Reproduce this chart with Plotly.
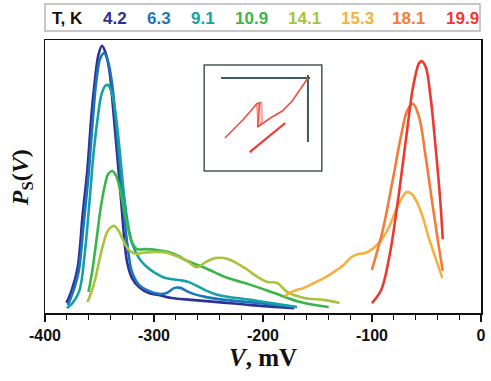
import plotly.graph_objects as go

# ---------------- data (V in mV, P_S in arbitrary units) ----------------
temps = ["4.2", "6.3", "9.1", "10.9", "14.1", "15.3", "18.1", "19.9"]
colors = ["#2e3192", "#1c75bc", "#15a2a6", "#39b54a", "#a8c43c", "#f6b040", "#f47b3a", "#ec3a32"]

V_42 = [-380.3, -375.5, -370.1, -365.5, -361.0, -357.4, -354.7, -351.0, -347.7, -344.7, -341.0, -337.4,
        -333.8, -330.2, -327.6, -324.7, -320.2, -313.8, -304.8, -295.7, -283.9, -265.8, -241.3, -211.3, -171.4]
P_42 = [3.7, 8.4, 16.5, 35.9, 53.1, 72.5, 83.5, 94.5, 97.9, 95.6, 89.0, 74.4,
        57.9, 41.4, 28.6, 18.7, 12.8, 9.5, 7.3, 6.6, 5.5, 4.8, 4.0, 2.9, 1.8]

V_63 = [-379.1, -374.6, -369.2, -364.6, -360.1, -356.5, -352.8, -349.2, -345.6, -342.0, -338.3, -334.7,
        -331.1, -327.5, -323.8, -320.2, -313.8, -304.8, -295.7, -288.4, -281.2, -275.7, -270.3, -263.9,
        -253.1, -234.9, -205.0, -170.5]
P_63 = [2.9, 7.3, 15.0, 32.2, 50.5, 68.9, 85.3, 93.4, 95.2, 91.9, 83.5, 68.9,
        52.4, 35.9, 23.1, 15.0, 10.3, 8.1, 7.0, 7.3, 9.2, 9.2, 8.1, 7.0,
        5.9, 4.8, 3.7, 2.2]

V_91 = [-380.0, -374.6, -368.3, -363.7, -359.2, -355.6, -351.9, -348.3, -344.7, -342.0, -338.3, -334.7,
        -331.1, -327.5, -323.8, -320.2, -313.8, -307.5, -300.2, -289.3, -277.6, -268.5, -253.1, -241.3,
        -211.3, -180.5, -168.7]
P_91 = [1.8, 3.7, 8.4, 21.2, 40.7, 57.9, 70.7, 79.9, 83.2, 83.5, 79.9, 71.4,
        57.9, 43.2, 32.2, 25.6, 20.1, 17.2, 15.0, 12.8, 12.1, 11.4, 8.4, 6.6,
        4.8, 2.9, 2.2]

V_109 = [-360.1, -356.5, -352.8, -349.2, -345.6, -342.0, -338.3, -334.7, -331.1, -327.5, -323.8, -320.2,
         -315.7, -307.5, -297.5, -286.6, -277.6, -271.2, -253.1, -232.2, -211.3, -189.6, -166.0, -139.7]
P_109 = [7.7, 15.8, 26.7, 37.7, 45.8, 50.9, 52.0, 50.2, 45.1, 37.7, 31.1, 26.0,
         23.4, 23.4, 23.1, 22.3, 20.9, 19.4, 16.5, 12.8, 10.3, 7.3, 4.0, 2.2]

V_141 = [-361.0, -357.4, -353.7, -350.1, -346.5, -342.9, -339.2, -336.5, -332.9, -329.3, -325.6, -322.0,
         -316.6, -311.1, -302.0, -291.2, -279.4, -268.5, -261.2, -252.2, -244.0, -232.2, -216.8, -205.0,
         -196.0, -186.9, -177.8, -162.4, -144.2, -129.7]
P_141 = [4.0, 7.7, 12.8, 19.4, 25.3, 29.7, 31.5, 31.9, 30.4, 27.5, 24.5, 22.7,
         21.6, 22.0, 22.3, 22.3, 20.9, 18.7, 16.8, 18.7, 20.1, 19.8, 16.5, 13.2,
         11.4, 11.0, 7.7, 5.5, 4.8, 3.7]

V_153 = [-180.5, -171.4, -162.4, -153.3, -144.2, -135.2, -126.1, -118.8, -112.5, -106.1, -99.8, -91.6,
         -84.4, -78.0, -72.6, -68.0, -63.5, -58.9, -53.5, -48.1, -41.7, -35.4]
P_153 = [6.2, 8.1, 9.2, 11.0, 12.8, 15.0, 17.6, 20.5, 21.6, 22.0, 23.4, 26.7,
         31.5, 37.7, 42.1, 44.3, 43.6, 40.7, 35.2, 27.8, 20.1, 12.8]

V_181 = [-100.1, -90.1, -81.0, -73.5, -67.4, -62.3, -56.9, -50.8, -44.7, -38.7, -35.1]
P_181 = [15.8, 30.4, 48.7, 64.6, 74.4, 76.6, 71.9, 57.3, 40.3, 24.3, 15.5]

V_199 = [-100.1, -91.6, -84.1, -76.5, -68.9, -62.3, -56.9, -54.7, -50.8, -46.3, -41.7, -37.2, -35.1]
P_199 = [3.6, 8.4, 20.6, 40.3, 63.4, 82.9, 91.5, 92.3, 90.2, 79.2, 60.9, 40.3, 27.0]

series_V = [V_42, V_63, V_91, V_109, V_141, V_153, V_181, V_199]
series_P = [P_42, P_63, P_91, P_109, P_141, P_153, P_181, P_199]

x_ticks = [-400, -300, -200, -100, 0]
x_ticklabels = ["<b>-400</b>", "<b>-300</b>", "<b>-200</b>", "<b>-100</b>", "<b>0</b>"]

# inset sketch (relative coordinates 0..1 inside the inset box)
inset_axis_u = [0.143, 0.90, None, 0.882, 0.882]
inset_axis_v = [0.877, 0.877, None, 0.905, 0.274]
inset_curve_u = [0.176, 0.244, 0.328, 0.395, 0.445, 0.471, 0.454, 0.563, 0.664, 0.748, 0.815, 0.882]
inset_curve_v = [0.311, 0.387, 0.481, 0.566, 0.632, 0.642, 0.415, 0.500, 0.566, 0.660, 0.774, 0.877]
inset_band_u = [0.445, 0.490, 0.495, 0.458, 0.445]
inset_band_v = [0.635, 0.650, 0.470, 0.415, 0.635]
inset_low_u = [0.387, 0.689]
inset_low_v = [0.179, 0.453]

# ---------------- figure ----------------
fig = go.Figure()

for t, c, vx, py in zip(temps, colors, series_V, series_P):
    fig.add_trace(go.Scatter(x=vx, y=py, mode="lines", name=t,
                             line=dict(color=c, width=2.6, shape="spline", smoothing=1.0),
                             showlegend=False, hoverinfo="skip"))

# inset traces
fig.add_trace(go.Scatter(x=inset_band_u, y=inset_band_v, mode="lines", fill="toself",
                         fillcolor="rgba(240,120,120,0.4)", line=dict(color="rgba(236,70,60,0.6)", width=1),
                         xaxis="x2", yaxis="y2", showlegend=False, hoverinfo="skip"))
fig.add_trace(go.Scatter(x=inset_axis_u, y=inset_axis_v, mode="lines",
                         line=dict(color="#3d5a5e", width=2), xaxis="x2", yaxis="y2",
                         showlegend=False, hoverinfo="skip"))
fig.add_trace(go.Scatter(x=inset_curve_u, y=inset_curve_v, mode="lines",
                         line=dict(color="#ec5040", width=1.6), xaxis="x2", yaxis="y2",
                         showlegend=False, hoverinfo="skip"))
fig.add_trace(go.Scatter(x=inset_low_u, y=inset_low_v, mode="lines",
                         line=dict(color="#ec3a32", width=2.2), xaxis="x2", yaxis="y2",
                         showlegend=False, hoverinfo="skip"))

L, R, T, B = 45, 5, 40, 68
W, H = 491, 381
pw, ph = W - L - R, H - T - B

def px_x(px):
    return (px - L) / pw

def px_y(py):
    return (H - B - py) / ph

ix0, ix1, iy0, iy1 = px_x(206), px_x(325), px_y(171), px_y(65)

shapes = [
    dict(type="rect", xref="paper", yref="paper", x0=ix0, x1=ix1, y0=iy0, y1=iy1,
         line=dict(color="#4a5558", width=1.5)),
    dict(type="rect", xref="paper", yref="paper", x0=px_x(45), x1=px_x(485), y0=px_y(31), y1=px_y(4),
         line=dict(color="#b5b5b5", width=1.5)),
]

legend_x = [68, 116, 160, 205, 254, 307, 361, 413, 467]
legend_txt = ["T, K"] + temps
legend_col = ["#111111"] + colors
annotations = []
for lx, txt, col in zip(legend_x, legend_txt, legend_col):
    annotations.append(dict(x=px_x(lx), y=px_y(18), xref="paper", yref="paper", text="<b>%s</b>" % txt,
                            showarrow=False, xanchor="center", yanchor="middle",
                            font=dict(family="Liberation Sans, Arial", size=17, color=col)))

annotations.append(dict(x=px_x(265), y=px_y(357), xref="paper", yref="paper",
                        text="<b><i>V</i>, mV</b>", showarrow=False, xanchor="center", yanchor="middle",
                        font=dict(family="Liberation Serif, Times New Roman", size=25, color="#111")))
annotations.append(dict(x=px_x(22), y=px_y(178), xref="paper", yref="paper",
                        text="<b><i>P</i><sub>S</sub>(<i>V</i>)</b>", showarrow=False, textangle=-90,
                        xanchor="center", yanchor="middle",
                        font=dict(family="Liberation Serif, Times New Roman", size=24, color="#111")))

fig.update_layout(
    width=W, height=H,
    margin=dict(l=L, r=R, t=T, b=B, pad=0),
    paper_bgcolor="white", plot_bgcolor="white",
    shapes=shapes, annotations=annotations,
    xaxis=dict(range=[-400, 0], tickvals=x_ticks, ticktext=x_ticklabels, ticks="outside", ticklen=7,
               tickwidth=1.5, tickcolor="#111", showline=True, linecolor="#111", linewidth=1.5,
               mirror=True, showgrid=False, zeroline=False,
               minor=dict(dtick=20, tick0=0, ticks="outside", ticklen=5, tickwidth=1.2, tickcolor="#111"),
               tickfont=dict(family="Liberation Sans, Arial", size=16, color="#111")),
    yaxis=dict(range=[0, 100], showticklabels=False, ticks="", showline=True, linecolor="#111",
               linewidth=1.5, mirror=True, showgrid=False, zeroline=False),
    xaxis2=dict(domain=[ix0, ix1], range=[0, 1], visible=False, anchor="y2"),
    yaxis2=dict(domain=[iy0, iy1], range=[0, 1], visible=False, anchor="x2"),
)

fig.write_html("out.html", config={"displayModeBar": False, "staticPlot": True},
               post_script="document.body.style.margin='0';document.body.style.overflow='hidden';")
